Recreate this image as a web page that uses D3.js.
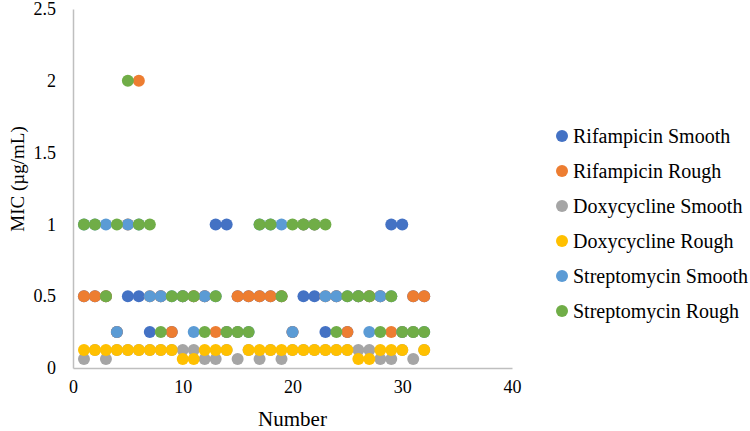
<!DOCTYPE html>
<html>
<head>
<meta charset="utf-8">
<script src="https://cdn.jsdelivr.net/npm/d3@7"></script>
<style>
  body { margin: 0; background: #fff; }
  svg text { font-family: "Liberation Serif", "DejaVu Serif", serif !important; fill: #000; }
</style>
</head>
<body>
<div id="chart"></div>
<script>

// Data arrays
let numbers = [1,2,3,4,5,6,7,8,9,10,11,12,13,14,15,16,17,18,19,20,21,22,23,24,25,26,27,28,29,30,31,32];

let rifampicinSmooth   = [0.5,0.5,0.5,0.25,0.5,0.5,0.25,0.5,0.25,0.5,0.5,0.5,1,1,0.5,0.5,
                          0.5,0.5,0.5,0.25,0.5,0.5,0.25,0.5,0.25,0.5,0.5,0.5,1,1,0.5,0.5];
let rifampicinRough    = [0.5,0.5,0.5,0.25,1,2,0.5,0.5,0.25,0.5,0.5,0.5,0.25,0.25,0.5,0.5,
                          0.5,0.5,0.5,0.25,1,1,0.5,0.5,0.25,0.5,0.5,0.5,0.25,0.25,0.5,0.5];
let doxycyclineSmooth  = [0.0625,0.125,0.0625,0.125,0.125,0.125,0.125,0.125,0.125,0.125,0.125,0.0625,0.0625,0.125,0.0625,0.125,
                          0.0625,0.125,0.0625,0.125,0.125,0.125,0.125,0.125,0.125,0.125,0.125,0.0625,0.0625,0.125,0.0625,0.125];
let doxycyclineRough   = [0.125,0.125,0.125,0.125,0.125,0.125,0.125,0.125,0.125,0.0625,0.0625,0.125,0.125,0.125,0.25,0.125,
                          0.125,0.125,0.125,0.125,0.125,0.125,0.125,0.125,0.125,0.0625,0.0625,0.125,0.125,0.125,0.25,0.125];
let streptomycinSmooth = [1,1,1,0.25,1,1,0.5,0.5,0.5,0.5,0.25,0.5,0.5,0.25,0.25,0.25,
                          1,1,1,0.25,1,1,0.5,0.5,0.5,0.5,0.25,0.5,0.5,0.25,0.25,0.25];
let streptomycinRough  = [1,1,0.5,1,2,1,1,0.25,0.5,0.5,0.5,0.25,0.5,0.25,0.25,0.25,
                          1,1,0.5,1,1,1,1,0.25,0.5,0.5,0.5,0.25,0.5,0.25,0.25,0.25];

let seriesNames  = ["Rifampicin Smooth", "Rifampicin Rough", "Doxycycline Smooth",
                    "Doxycycline Rough", "Streptomycin Smooth", "Streptomycin Rough"];
let seriesValues = [rifampicinSmooth, rifampicinRough, doxycyclineSmooth,
                    doxycyclineRough, streptomycinSmooth, streptomycinRough];
let seriesColors = ["#4472c4", "#ed7d31", "#a5a5a5", "#ffc000", "#5b9bd5", "#70ad47"];

let xTicks = [0, 10, 20, 30, 40];
let yTicks = [0, 0.5, 1, 1.5, 2, 2.5];

// Svg and scales
let width = 750, height = 431;

let svg = d3.select("#chart")
  .append("svg")
  .attr("width", width)
  .attr("height", height);

let x = d3.scaleLinear().domain([0, 40]).range([73, 512]);
let y = d3.scaleLinear().domain([0, 2.5]).range([368, 9]);

// Axes, no tick marks, light grey lines
let xAxis = svg.append("g")
  .attr("transform", "translate(0," + y(0) + ")")
  .call(d3.axisBottom(x).tickValues(xTicks).tickSize(0).tickPadding(12).tickFormat(d3.format("d")));

let yAxis = svg.append("g")
  .attr("transform", "translate(" + x(0) + ",0)")
  .call(d3.axisLeft(y).tickValues(yTicks).tickSize(0).tickPadding(17).tickFormat(d => d));

svg.selectAll("g").attr("font-family", null);

svg.selectAll(".domain")
  .attr("stroke", "#bfbfbf")
  .attr("stroke-width", 1.5);

svg.selectAll(".tick text")
  .style("font-size", "18px")
  .attr("fill", "#000");

// Axis titles
svg.append("text")
  .attr("x", (x(0) + x(40)) / 2)
  .attr("y", 426)
  .attr("text-anchor", "middle")
  .style("font-size", "21px")
  .text("Number");

svg.append("text")
  .attr("transform", "translate(24," + 179 + ") rotate(-90)")
  .attr("text-anchor", "middle")
  .style("font-size", "19px")
  .text("MIC (µg/mL)");

// Points, series drawn in order so later series sit on top
let plot = svg.append("g");

seriesValues.forEach(function(values, s) {
  plot.append("g")
    .selectAll("circle")
    .data(values)
    .enter()
    .append("circle")
    .call(drawPoint, seriesColors[s]);
});

function drawPoint(selection, color) {
  selection
    .attr("cx", (d, i) => x(numbers[i]))
    .attr("cy", d => y(d))
    .attr("r", 6)
    .attr("fill", color);
}

// Legend
let legend = svg.append("g")
  .selectAll("g")
  .data(seriesNames)
  .enter()
  .append("g")
  .attr("transform", (d, i) => "translate(562," + (136 + i * 35) + ")");

legend.append("circle")
  .attr("r", 6)
  .attr("fill", (d, i) => seriesColors[i]);

legend.append("text")
  .attr("x", 11)
  .attr("dy", "0.35em")
  .style("font-size", "20px")
  .text(d => d);

</script>
</body>
</html>
